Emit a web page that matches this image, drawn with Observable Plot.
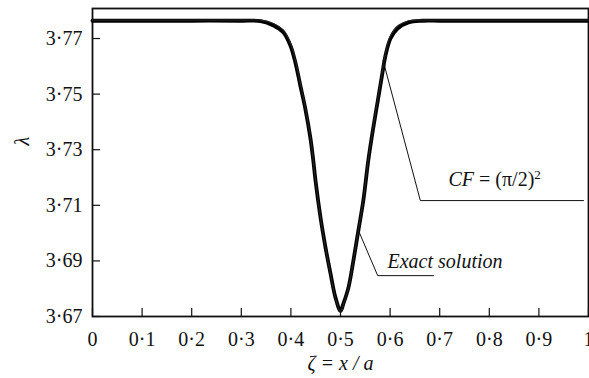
<!DOCTYPE html>
<html><head><meta charset="utf-8">
<script src="https://cdn.jsdelivr.net/npm/d3@7"></script>
<script src="https://cdn.jsdelivr.net/npm/@observablehq/plot@0.6"></script>
<style>
html,body{margin:0;padding:0;background:#fff;overflow:hidden;}
</style></head><body><div id="chart"></div>
<script>
// Exact solution curve (ζ, λ)
const exactZeta   = [0.00, 0.10, 0.20, 0.30, 0.339, 0.365, 0.385, 0.399, 0.409, 0.419, 0.429, 0.4395, 0.4456, 0.4496, 0.4597, 0.4698, 0.4798, 0.4899, 0.500, 0.506, 0.516, 0.526, 0.536, 0.546, 0.556, 0.5645, 0.5746, 0.5847, 0.5907, 0.6008, 0.615, 0.637, 0.665, 0.70, 0.80, 0.90, 1.00];
const exactLambda = [3.7764, 3.7764, 3.7764, 3.7764, 3.7763, 3.7747, 3.7722, 3.7675, 3.7614, 3.7531, 3.7448, 3.7340, 3.7254, 3.7189, 3.7056, 3.6948, 3.6855, 3.6768, 3.6720, 3.6747, 3.6804, 3.6901, 3.7009, 3.7117, 3.7261, 3.7362, 3.7470, 3.7578, 3.7639, 3.7700, 3.7736, 3.7758, 3.7764, 3.7764, 3.7764, 3.7764, 3.7764];
// CF = (π/2)^2 curve (nearly coincident)
const cfZeta   = [0.00, 0.10, 0.20, 0.30, 0.339, 0.365, 0.385, 0.399, 0.409, 0.419, 0.429, 0.4395, 0.4456, 0.4496, 0.4597, 0.4698, 0.4798, 0.4899, 0.500, 0.506, 0.516, 0.526, 0.536, 0.546, 0.556, 0.5645, 0.5746, 0.5847, 0.5907, 0.6008, 0.615, 0.637, 0.665, 0.70, 0.80, 0.90, 1.00];
const cfLambda = [3.7766, 3.7766, 3.7766, 3.7766, 3.7766, 3.7754, 3.7730, 3.7684, 3.7622, 3.7538, 3.7452, 3.7343, 3.7256, 3.7190, 3.7056, 3.6947, 3.6853, 3.6766, 3.6717, 3.6745, 3.6803, 3.6901, 3.7010, 3.7119, 3.7264, 3.7366, 3.7476, 3.7586, 3.7648, 3.7710, 3.7745, 3.7763, 3.7766, 3.7766, 3.7766, 3.7766, 3.7766];

const xTicks = [0, 0.1, 0.2, 0.3, 0.4, 0.5, 0.6, 0.7, 0.8, 0.9, 1];
const xTickLabels = ["0", "0·1", "0·2", "0·3", "0·4", "0·5", "0·6", "0·7", "0·8", "0·9", "1"];
const yTicks = [3.67, 3.69, 3.71, 3.73, 3.75, 3.77];
const yTickLabels = ["3·67", "3·69", "3·71", "3·73", "3·75", "3·77"];

// annotation leaders (data coordinates)
const cfLeaderZeta = [0.586, 0.661, 0.990];
const cfLeaderLambda = [3.7620, 3.7117, 3.7117];
const exactLeaderZeta = [0.538, 0.575, 0.6875];
const exactLeaderLambda = [3.7002, 3.6847, 3.6847];
const cfLabel = {zeta: 0.7177, lambda: 3.7191, text: "CF = (π/2)"};
const exactLabel = {zeta: 0.5948, lambda: 3.6896, text: "Exact solution"};

const exactData = exactZeta.map((z, i) => ({z, l: exactLambda[i]}));
const cfData = cfZeta.map((z, i) => ({z, l: cfLambda[i]}));
const cfLeader = cfLeaderZeta.map((z, i) => ({z, l: cfLeaderLambda[i]}));
const exactLeader = exactLeaderZeta.map((z, i) => ({z, l: exactLeaderLambda[i]}));

const ink = "#111";
const serif = "Liberation Serif";
const plot = Plot.plot({
  width: 589, height: 378,
  marginTop: 8, marginBottom: 62, marginLeft: 92, marginRight: 1,
  style: {fontFamily: serif, fontSize: "20px", color: ink, background: "#fff"},
  x: {domain: [0, 1]},
  y: {domain: [3.67, 3.7808]},
  marks: [
    Plot.axisX(xTicks, {tickSize: 0, tickPadding: 15, fontSize: 20, fontFamily: serif, tickFormat: d => xTickLabels[xTicks.indexOf(d)], label: null}),
    Plot.axisY(yTicks, {tickSize: 0, tickPadding: 10, fontSize: 20, fontFamily: serif, tickFormat: d => yTickLabels[yTicks.indexOf(d)], label: null}),
    Plot.tickX(xTicks, {x: d => d, insetTop: 300, stroke: ink, strokeWidth: 1.2}),
    Plot.tickY(yTicks, {y: d => d, insetRight: 488, stroke: ink, strokeWidth: 1.2}),
    Plot.frame({stroke: ink, strokeWidth: 1.8}),
    Plot.line(exactData, {x: "z", y: "l", stroke: "#000", strokeWidth: 3.8, curve: "catmull-rom"}),
    Plot.line(cfData, {x: "z", y: "l", stroke: "#222", strokeWidth: 1.2, curve: "catmull-rom"}),
    Plot.line(cfLeader, {x: "z", y: "l", stroke: ink, strokeWidth: 1}),
    Plot.line(exactLeader, {x: "z", y: "l", stroke: ink, strokeWidth: 1}),
    Plot.text([cfLabel], {x: "zeta", y: "lambda", text: "text", textAnchor: "start", lineAnchor: "middle", fontSize: 20, fontFamily: serif, fill: ink}),
    Plot.text([exactLabel], {x: "zeta", y: "lambda", text: "text", textAnchor: "start", lineAnchor: "middle", fontSize: 20, fontFamily: serif, fontStyle: "italic", fill: ink}),
    Plot.text(["ζ = x / a"], {frameAnchor: "bottom", dy: 47, lineAnchor: "middle", fontSize: 20, fontFamily: serif, fontStyle: "italic", fill: ink}),
    Plot.text(["λ"], {frameAnchor: "left", dx: -70, dy: -17, rotate: -90, lineAnchor: "middle", fontSize: 20, fontFamily: serif, fontStyle: "italic", fill: ink})
  ]
});
document.getElementById("chart").appendChild(plot);

// style CF label: italic "CF" and superscript 2
d3.select(plot).selectAll("text").filter(function() { return this.textContent === cfLabel.text; })
  .each(function() {
    const t = d3.select(this);
    t.text(null);
    t.append("tspan").attr("font-style", "italic").text("CF");
    t.append("tspan").text(" = (π/2)");
    t.append("tspan").attr("dy", "-0.6em").attr("font-size", "13px").text("2");
  });
</script>
</body></html>
